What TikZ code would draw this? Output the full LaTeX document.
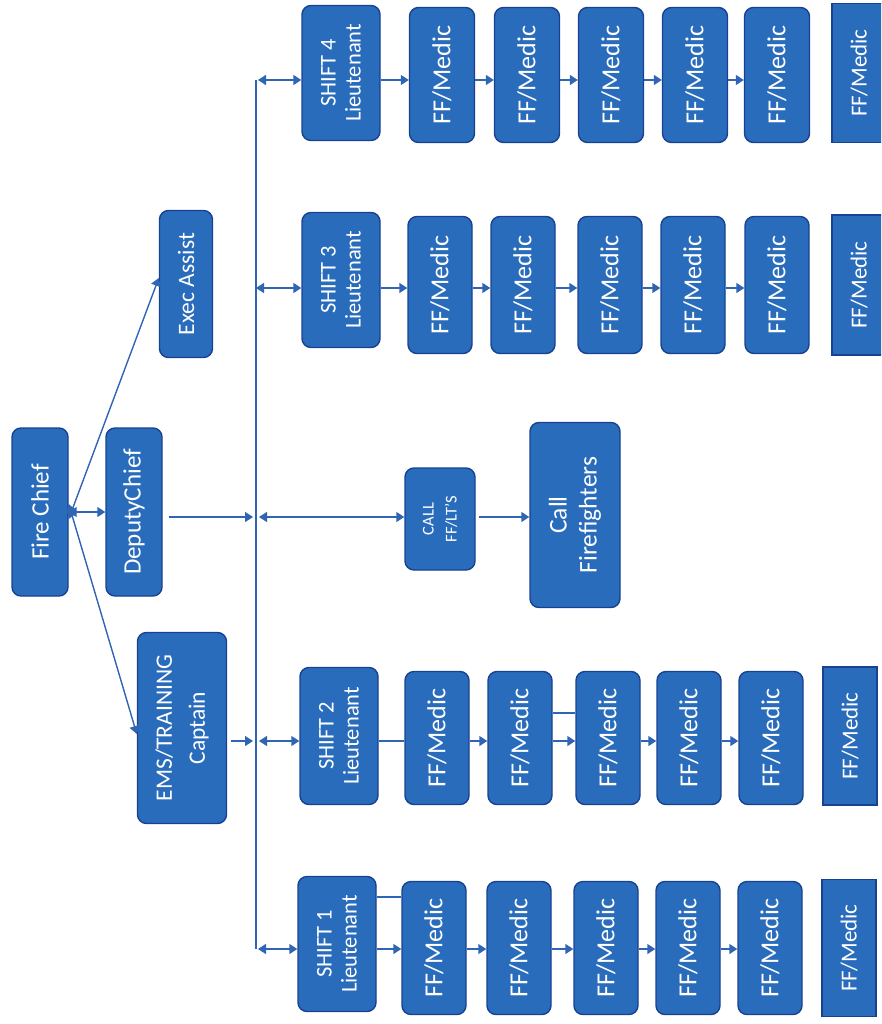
\documentclass[tikz,border=0pt]{standalone}
\usepackage{fontspec}
\setmainfont{Carlito}
\usetikzlibrary{arrows.meta}
\definecolor{boxfill}{RGB}{42,108,188}
\definecolor{boxdraw}{RGB}{24,66,145}
\definecolor{linecol}{RGB}{48,100,180}
\tikzset{
  box/.style={draw=boxdraw, fill=boxfill, line width=1.4pt, rounded corners=9pt, inner sep=0pt},
  sqbox/.style={box, rounded corners=0pt},
  lbl/.style={rotate=90, text=white, align=center, inner sep=0pt, font=\fontsize{26}{30}\selectfont},
  lblsm/.style={lbl, font=\fontsize{22.5}{25}\selectfont},
  conn/.style={draw=linecol, line width=1.4pt},
  arr/.style={conn, -{Triangle[length=8pt,width=10pt]}},
  darr/.style={conn, {Triangle[length=8pt,width=10pt]}-{Triangle[length=8pt,width=10pt]}}
}
\begin{document}
\begin{tikzpicture}[x=1pt,y=-1pt]
\useasboundingbox (0,0) rectangle (881,1024);
\clip (0,0) rectangle (881,1024);

% ---- left column
\node[box, minimum width=56, minimum height=168] (fc) at (40,512) {};
\node[lbl, font=\fontsize{25}{30}\selectfont] (fct) at (fc) {Fire Chief};
\node[box, minimum width=56, minimum height=168] (dc) at (134,512) {};
\node[lbl, font=\fontsize{25}{30}\selectfont] (dct) at (dc) {DeputyChief};
\node[box, minimum width=53, minimum height=147] (ea) at (186,284) {};
\node[lbl, font=\fontsize{23.5}{27}\selectfont] (eat) at (ea) {Exec Assist};
\node[box, minimum width=89, minimum height=191] (ems) at (182,728) {};
\node[lbl, font=\fontsize{23.5}{33}\selectfont] (emst) at (ems) {EMS/TRAINING\\Captain};

% ---- trunk
\coordinate (ttop) at (256,80);
\coordinate (tbot) at (256,949);
\draw[conn] (ttop) -- (tbot);

% row coordinates
\coordinate (y4) at (0,80);
\coordinate (y3) at (0,288);
\coordinate (yc) at (0,517);
\coordinate (y2) at (0,741);
\coordinate (y2u) at (0,713);
\coordinate (y1) at (0,949);
\coordinate (y1u) at (0,897);

% ---- Fire chief connectors
\draw[darr] ([yshift=-7pt]fc.east) -- ([yshift=6pt]ea.west);
\draw[darr] (fc.east) -- (dc.west);
\draw[darr] ([yshift=8pt]fc.east) -- ([yshift=-6pt]ems.west);

% ---- SHIFT 4
\node[box, minimum width=78, minimum height=135] (l4) at (341,73) {};
\node[lblsm] (l4t) at (l4) {SHIFT 4\\Lieutenant};
\foreach \i/\x in {1/442,2/527,3/611,4/695,5/777}{
  \node[box, minimum width=65, minimum height=135] (r4f\i) at (\x,75) {};
  \node[lbl] (r4t\i) at (r4f\i) {FF/Medic};
}
\node[sqbox, minimum width=54, minimum height=139] (r4f6) at (859,73) {};
\node[lbl, font=\fontsize{23}{26}\selectfont] (r4t6) at (r4f6) {FF/Medic};
\draw[darr] ([xshift=2pt]ttop) -- (l4.west|-y4);
\draw[arr] (l4.east|-y4) -- (r4f1.west|-y4);
\foreach \a/\b in {1/2,2/3,3/4,4/5}{
  \draw[arr] (r4f\a.east|-y4) -- (r4f\b.west|-y4);
}

% ---- SHIFT 3
\node[box, minimum width=78, minimum height=135] (l3) at (341,280) {};
\node[lblsm] (l3t) at (l3) {SHIFT 3\\Lieutenant};
\foreach \i/\x in {1/440,2/523,3/610,4/693,5/777}{
  \node[box, minimum width=64, minimum height=137] (r3f\i) at (\x,285) {};
  \node[lbl] (r3t\i) at (r3f\i) {FF/Medic};
}
\node[sqbox, minimum width=54, minimum height=140] (r3f6) at (859,285) {};
\node[lbl, font=\fontsize{23}{26}\selectfont] (r3t6) at (r3f6) {FF/Medic};
\draw[darr] (ttop|-y3) -- (l3.west|-y3);
\draw[arr] (l3.east|-y3) -- (r3f1.west|-y3);
\foreach \a/\b in {1/2,2/3,3/4,4/5}{
  \draw[arr] (r3f\a.east|-y3) -- (r3f\b.west|-y3);
}

% ---- CALL
\node[box, minimum width=70, minimum height=102] (call) at (440,519) {};
\node[lbl, font=\fontsize{16.5}{23}\selectfont] (callt) at (call) {CALL\\FF/LT'S};
\node[box, minimum width=90, minimum height=185] (cff) at (575,515) {};
\node[lbl, font=\fontsize{25.5}{30}\selectfont] (cfft) at (cff) {Call\\Firefighters};
\draw[arr] ([xshift=6pt]dc.east|-yc) -- ([xshift=-3pt]ttop|-yc);
\draw[darr] ([xshift=3pt]ttop|-yc) -- (call.west|-yc);
\draw[arr] ([xshift=3pt]call.east|-yc) -- (cff.west|-yc);

% ---- SHIFT 2
\node[box, minimum width=78, minimum height=137] (l2) at (339,736) {};
\node[lblsm] (l2t) at (l2) {SHIFT 2\\Lieutenant};
\foreach \i/\x in {1/437,2/520,3/608,4/689,5/771}{
  \node[box, minimum width=64, minimum height=133] (r2f\i) at (\x,738) {};
  \node[lbl] (r2t\i) at (r2f\i) {FF/Medic};
}
\node[sqbox, minimum width=54, minimum height=138] (r2f6) at (850,736) {};
\node[lbl, font=\fontsize{23}{26}\selectfont] (r2t6) at (r2f6) {FF/Medic};
\draw[arr] ([xshift=4pt]ems.east|-y2) -- ([xshift=-3pt]ttop|-y2);
\draw[darr] ([xshift=3pt]ttop|-y2) -- (l2.west|-y2);
\draw[conn] (l2.east|-y2) -- (r2f1.west|-y2);
\draw[conn] (r2f2.east|-y2u) -- (r2f3.west|-y2u);
\foreach \a/\b in {1/2,2/3,3/4,4/5}{
  \draw[arr] (r2f\a.east|-y2) -- (r2f\b.west|-y2);
}

% ---- SHIFT 1
\node[box, minimum width=78, minimum height=135] (l1) at (337,944) {};
\node[lblsm] (l1t) at (l1) {SHIFT 1\\Lieutenant};
\foreach \i/\x in {1/434,2/519,3/606,4/688,5/770}{
  \node[box, minimum width=64, minimum height=133] (r1f\i) at (\x,948) {};
  \node[lbl] (r1t\i) at (r1f\i) {FF/Medic};
}
\node[sqbox, minimum width=54, minimum height=137] (r1f6) at (849,948) {};
\node[lbl, font=\fontsize{23}{26}\selectfont] (r1t6) at (r1f6) {FF/Medic};
\draw[darr] ([xshift=2pt]tbot) -- (l1.west|-y1);
\draw[arr] (l1.east|-y1) -- (r1f1.west|-y1);
\draw[conn] (l1.east|-y1u) -- (r1f1.west|-y1u);
\foreach \a/\b in {1/2,2/3,3/4,4/5}{
  \draw[arr] (r1f\a.east|-y1) -- (r1f\b.west|-y1);
}
\end{tikzpicture}
\end{document}
